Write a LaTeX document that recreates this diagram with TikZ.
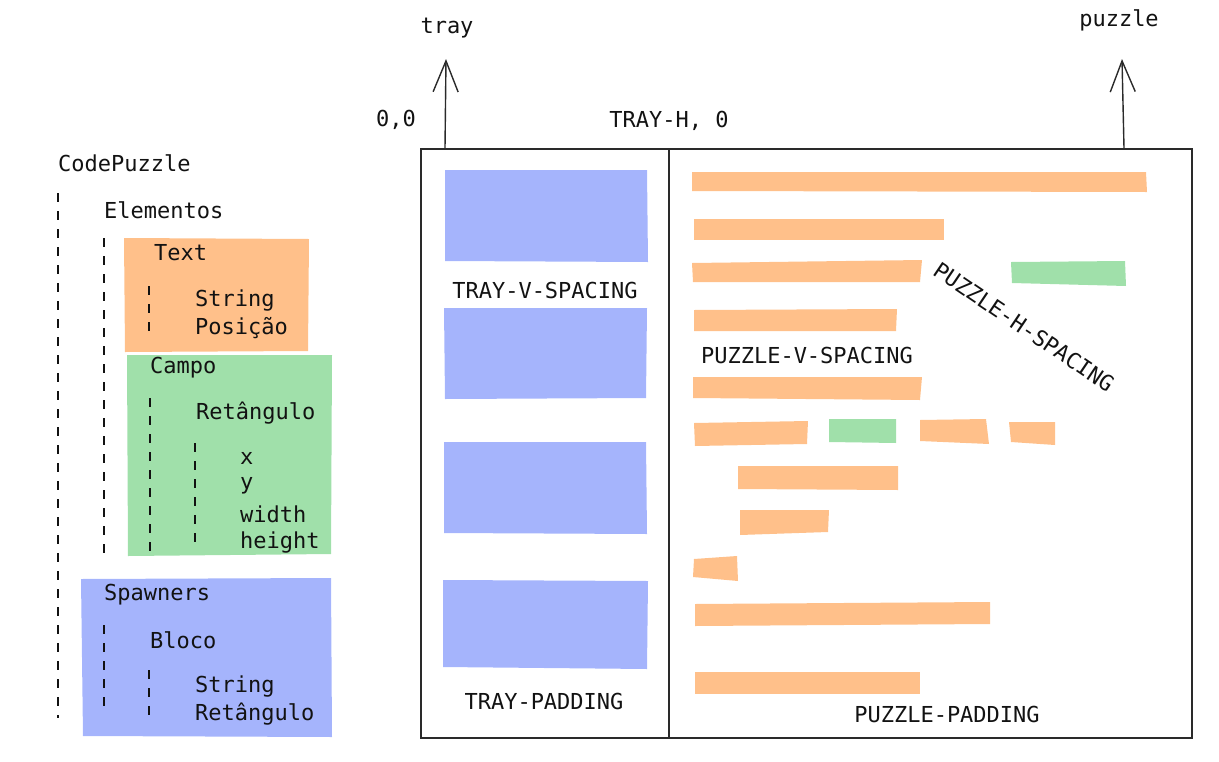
\documentclass[tikz,border=0pt]{standalone}
\usepackage{fontspec}
\setmonofont{DejaVu Sans Mono}
\usetikzlibrary{arrows.meta}
\definecolor{oran}{HTML}{FFC08A}
\definecolor{gren}{HTML}{A0E0AA}
\definecolor{blu}{HTML}{A5B4FC}
\definecolor{ink}{HTML}{121212}
\tikzset{
  lbl/.style={font=\ttfamily\fontsize{22}{26}\selectfont, text=ink, inner sep=0pt},
  lw/.style={lbl, anchor=west},
  tree/.style={draw=ink, line width=1.3pt, dash pattern=on 9pt off 9pt},
  frame/.style={draw=ink!90, line width=1.4pt},
  up/.style={draw=ink!90, line width=1.4pt, -{Straight Barb[length=31pt,width=25pt,line width=1.4pt]}},
}
\begin{document}
\begin{tikzpicture}[x=1pt,y=-1pt]
\useasboundingbox (0,0) rectangle (1219,761);

% ---------- left tree ----------
\fill[oran] (124,238) -- (309,239) -- (308,351) -- (125,352) -- cycle;
\fill[gren] (127,355) -- (332,355) -- (331,554) -- (128,556) -- cycle;
\fill[blu]  (81,579) -- (331,578) -- (332,737) -- (83,736) -- cycle;

\node[lw] (cp) at (58,163) {CodePuzzle};
\node[lw] (el) at (104,210) {Elementos};
\node[lw] (tx) at (154,253) {Text};
\node[lw] (s1) at (195,300) {String};
\node[lw] (po) at (195,328) {Posição};
\node[lw] (ca) at (150,368) {Campo};
\node[lw] (r1) at (196,413) {Retângulo};
\node[lw] (vx) at (240,458) {x};
\node[lw] (vy) at (240,486) {y};
\node[lw] (vw) at (240,514) {width};
\node[lw] (vh) at (240,542) {height};
\node[lw] (sp) at (104,595) {Spawners};
\node[lw] (bl) at (150,640) {Bloco};
\node[lw] (s2) at (195,686) {String};
\node[lw] (r2) at (195,714) {Retângulo};

\draw[tree] (58,193) -- (58,718);
\draw[tree] (104,238) -- (104,556);
\draw[tree] (149,286) -- (149,333);
\draw[tree] (150,398) -- (150,556);
\draw[tree] (195,443) -- (195,550);
\draw[tree] (104,625) -- (104,713);
\draw[tree] (149,670) -- (149,718);

% ---------- tray / puzzle frames ----------
\draw[frame] (421,149) rectangle (669,738);
\draw[frame] (669,149) rectangle (1192,738);

% tray blocks
\fill[blu] (445,170) -- (647,170) -- (648,262) -- (445,261) -- cycle;
\fill[blu] (444,308) -- (647,308) -- (646,398) -- (445,399) -- cycle;
\fill[blu] (444,442) -- (646,442) -- (647,534) -- (444,533) -- cycle;
\fill[blu] (443,580) -- (648,581) -- (647,669) -- (443,667) -- cycle;

% puzzle bars
\fill[oran] (692,172) -- (1146,172) -- (1147,192) -- (692,191) -- cycle;
\fill[oran] (694,219) -- (944,219) -- (944,240) -- (694,240) -- cycle;
\fill[oran] (692,263) -- (922,260) -- (920,282) -- (693,282) -- cycle;
\fill[gren] (1011,262) -- (1125,261) -- (1126,286) -- (1012,283) -- cycle;
\fill[oran] (694,310) -- (897,309) -- (896,331) -- (694,331) -- cycle;
\fill[oran] (693,377) -- (922,377) -- (920,400) -- (693,398) -- cycle;
\fill[oran] (694,423) -- (808,421) -- (807,444) -- (695,446) -- cycle;
\fill[gren] (829,419) -- (896,419) -- (896,443) -- (829,442) -- cycle;
\fill[oran] (920,420) -- (986,419) -- (989,444) -- (920,441) -- cycle;
\fill[oran] (1009,422) -- (1055,422) -- (1055,445) -- (1011,442) -- cycle;
\fill[oran] (738,466) -- (898,466) -- (898,490) -- (738,489) -- cycle;
\fill[oran] (740,510) -- (829,510) -- (828,532) -- (740,535) -- cycle;
\fill[oran] (694,559) -- (737,556) -- (738,581) -- (693,577) -- cycle;
\fill[oran] (695,604) -- (990,602) -- (990,624) -- (695,626) -- cycle;
\fill[oran] (695,672) -- (920,672) -- (920,694) -- (695,694) -- cycle;

% labels
\node[lbl] (tray) at (447,28) {tray};
\node[lbl] (puz) at (1119,20) {puzzle};
\node[lbl] (o) at (396,120) {0,0};
\node[lbl] (th) at (669,121) {TRAY-H, 0};
\node[lbl] (tvs) at (545,290) {TRAY-V-SPACING};
\node[lbl] (tp) at (544,701) {TRAY-PADDING};
\node[lbl] (pvs) at (807,355) {PUZZLE-V-SPACING};
\node[lbl, rotate=-34] (phs) at (1024,327) {PUZZLE-H-SPACING};
\node[lbl] (pp) at (947,714) {PUZZLE-PADDING};

% axes
\coordinate (ta) at (445,148);
\coordinate (tb) at (446,59);
\coordinate (pa) at (1124,148);
\coordinate (pb) at (1122,59);
\draw[up] (ta) -- (tb);
\draw[up] (pa) -- (pb);
\end{tikzpicture}
\end{document}
